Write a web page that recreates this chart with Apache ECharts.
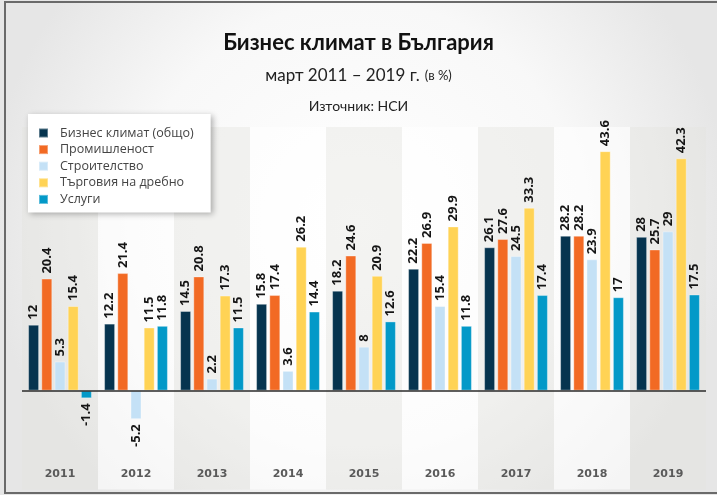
<!DOCTYPE html>
<html>
<head>
<meta charset="utf-8">
<script src="https://cdn.jsdelivr.net/npm/echarts@6/dist/echarts.min.js"></script>
<style>html,body{margin:0;padding:0;}#c{width:717px;height:495px;}</style>
</head>
<body>
<div id="c"></div>
<script>
const years = ['2011','2012','2013','2014','2015','2016','2017','2018','2019'];
const seriesNames = ['Бизнес климат (общо)','Промишленост','Строителство','Търговия на дребно','Услуги'];
const business = [12, 12.2, 14.5, 15.8, 18.2, 22.2, 26.1, 28.2, 28];
const industry = [20.4, 21.4, 20.8, 17.4, 24.6, 26.9, 27.6, 28.2, 25.7];
const construction = [5.3, -5.2, 2.2, 3.6, 8, 15.4, 24.5, 23.9, 29];
const retail = [15.4, 11.5, 17.3, 26.2, 20.9, 29.9, 33.3, 43.6, 42.3];
const services = [-1.4, 11.8, 11.5, 14.4, 12.6, 11.8, 17.4, 17, 17.5];
const colors = ['#06344f', '#f26a24', '#c4e1f6', '#ffd355', '#0399c8'];
const valuesList = [business, industry, construction, retail, services];

const chart = echarts.init(document.getElementById('c'));

function toData(arr) {
  return arr.map(v => v < 0
    ? {value: v, label: {position: 'bottom', align: 'right'}}
    : v);
}

const series = valuesList.map((vals, i) => {
  const s = {
    name: seriesNames[i],
    type: 'bar',
    data: toData(vals),
    barWidth: 11,
    barGap: '20%',
    itemStyle: {color: colors[i], borderColor: 'rgba(255,255,255,0.35)', borderWidth: 1},
    label: {
      show: true,
      position: 'top',
      rotate: 90,
      align: 'left',
      verticalAlign: 'middle',
      distance: 5,
      fontFamily: 'Open Sans',
      fontWeight: 'bold',
      fontSize: 13,
      color: '#151515'
    },
    z: 3
  };
  if (i === 0) {
    s.markLine = {
      silent: true,
      symbol: 'none',
      label: {show: false},
      lineStyle: {color: '#2a2a2a', width: 1.5, type: 'solid'},
      data: [{yAxis: 0}],
      z: 5
    };
  }
  return s;
});

chart.setOption({
  animation: false,
  backgroundColor: {
    type: 'radial', x: 0.5, y: 0.45, r: 0.75,
    colorStops: [{offset: 0, color: '#ffffff'}, {offset: 0.6, color: '#f8f8f8'}, {offset: 1, color: '#e6e6e6'}]
  },
  color: colors,
  title: [
    {text: 'Бизнес климат в България', left: 'center', top: 27,
      textStyle: {fontFamily: 'Lato', fontWeight: 'bold', fontSize: 22, color: '#111'}},
    {text: '{a|март 2011 – 2019 г.} {b|(в %)}', left: 'center', top: 62,
      textStyle: {fontWeight: 'normal', rich: {
        a: {fontFamily: 'Lato', fontWeight: 'normal', fontSize: 17, color: '#222'},
        b: {fontFamily: 'Lato', fontWeight: 'normal', fontSize: 13, color: '#222'}
      }}},
    {text: 'Източник: НСИ', left: 'center', top: 94,
      textStyle: {fontFamily: 'Lato', fontWeight: 'normal', fontSize: 14, color: '#222'}}
  ],
  legend: {
    data: seriesNames,
    orient: 'vertical',
    left: 28,
    top: 114,
    padding: [12, 17, 6, 10],
    itemWidth: 9,
    itemHeight: 9,
    itemGap: 2.6,
    icon: 'rect',
    backgroundColor: '#ffffff',
    shadowBlur: 6,
    shadowColor: 'rgba(0,0,0,0.3)',
    shadowOffsetX: 2,
    shadowOffsetY: 2,
    textStyle: {fontFamily: 'Open Sans', fontSize: 12.5, color: '#444', lineHeight: 14, padding: [0, 0, 0, 7]}
  },
  grid: {left: 22, right: 11, top: 127, bottom: 5.5},
  xAxis: {
    type: 'category',
    data: years,
    position: 'bottom',
    axisLine: {show: false, onZero: false},
    axisTick: {show: false},
    axisLabel: {inside: true, margin: 10, fontFamily: 'DejaVu Sans', fontWeight: 'bold', fontSize: 11, color: '#5a5a5a', verticalAlign: 'bottom'},
    splitArea: {show: true, areaStyle: {color: ['rgba(228,228,222,0.4)', 'rgba(255,255,255,0.6)']}}
  },
  yAxis: {
    type: 'value',
    min: -18,
    max: 48,
    show: false,
    splitLine: {show: false}
  },
  graphic: [
    {type: 'rect', shape: {x: 5, y: 2, width: 720, height: 491}, style: {fill: 'none', stroke: '#6a6a6a', lineWidth: 2}, z: 100}
  ],
  series: series
});
</script>
</body>
</html>
